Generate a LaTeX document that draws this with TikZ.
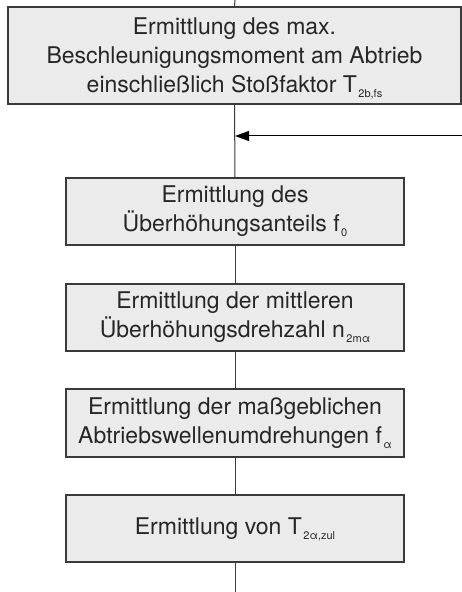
\documentclass[tikz,border=0pt]{standalone}
\usepackage{fontspec}
\setmainfont{TeX Gyre Heros}
\usetikzlibrary{arrows.meta}
\definecolor{boxfill}{HTML}{EBEBEB}
\definecolor{linegray}{HTML}{3A3A3A}
\definecolor{textgray}{HTML}{262626}
\newcommand\subx[1]{\kern1.5bp\smash{\raisebox{-5bp}{\fontsize{11bp}{11bp}\selectfont #1}}}
\tikzset{
  stepbox/.style={draw=linegray, fill=boxfill, line width=1.2bp, align=center,
    inner sep=0pt, text=textgray, font=\fontsize{23bp}{29bp}\selectfont,
    minimum width=338bp, minimum height=67bp},
  flow/.style={draw=linegray, line width=1bp},
  feed/.style={draw=black, line width=1bp, -{Triangle[length=14bp,width=10bp]}}
}
\begin{document}
\begin{tikzpicture}[x=1bp,y=-1bp]
\useasboundingbox (0,0) rectangle (462,592);
\coordinate (top) at (235,0);
\coordinate (bottom) at (235,592);
\coordinate (join) at (235,136);
\coordinate (feedstart) at (462,136);
\node[stepbox, minimum width=453bp, minimum height=97bp] (b1) at (234.5,55.5)
  {Ermittlung des max.\\Beschleunigungsmoment am Abtrieb\\einschließlich Stoßfaktor T\subx{2b,fs}};
\node[stepbox] (b2) at (235,211.5) {Ermittlung des\\Überhöhungsanteils f\subx{0}};
\node[stepbox] (b3) at (235,317.5) {Ermittlung der mittleren\\Überhöhungsdrehzahl n\subx{2mα}};
\node[stepbox, minimum height=68bp] (b4) at (235,423) {Ermittlung der maßgeblichen\\Abtriebswellenumdrehungen f\subx{α}};
\node[stepbox] (b5) at (235,528.5) {Ermittlung von T\subx{2α,zul}};
\draw[flow] (top) -- (b1.north);
\draw[flow] (b1.south) -- (b2.north);
\draw[flow] (b2.south) -- (b3.north);
\draw[flow] (b3.south) -- (b4.north);
\draw[flow] (b4.south) -- (b5.north);
\draw[flow] (b5.south) -- (bottom);
\draw[feed] (feedstart) -- (join);
\end{tikzpicture}
\end{document}
